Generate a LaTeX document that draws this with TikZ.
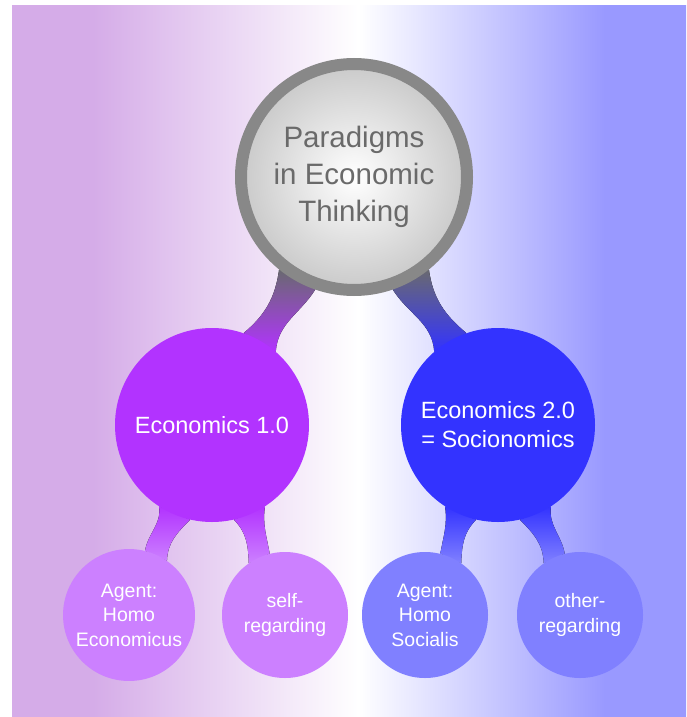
\documentclass[tikz,border=0pt]{standalone}
\usepackage{fontspec}
\setmainfont{Liberation Sans}
\usetikzlibrary{positioning}

\definecolor{bgpurple}{RGB}{213,172,232}
\definecolor{bgblue}{RGB}{153,153,255}
\definecolor{ringgray}{RGB}{136,136,136}
\definecolor{roottext}{RGB}{106,106,106}
\definecolor{rootlink}{RGB}{105,105,112}
\definecolor{ecoone}{RGB}{178,51,255}
\definecolor{ecotwo}{RGB}{51,51,255}
\definecolor{leafone}{RGB}{204,128,255}
\definecolor{leaftwo}{RGB}{128,128,255}

\pgfdeclarehorizontalshading{bgfade}{100bp}{color(0bp)=(bgpurple); color(31bp)=(bgpurple); color(50.7bp)=(white); color(69bp)=(bgblue); color(100bp)=(bgblue)}

\pgfdeclarelayer{bg}
\pgfdeclarelayer{links}
\pgfsetlayers{bg,links,main}

\begin{document}
\begin{tikzpicture}[x=1pt, y=1pt,
    rootnode/.style={circle, draw=ringgray, line width=12pt, inner color=white, outer color=gray!42,
        minimum size=226pt, align=center, text=roottext, font=\fontsize{29.5}{37}\selectfont},
    econode/.style={circle, minimum size=194pt, align=center, text=white, font=\fontsize{23.5}{29}\selectfont},
    leafnode/.style={circle, minimum size=126pt, align=center, text=white, font=\fontsize{19.5}{24.5}\selectfont},
    branch/.style={draw=none}
  ]

  \useasboundingbox (0,0) rectangle (686,-717);
  \begin{pgfonlayer}{bg}
    \fill[shading=bgfade] (12,-6) rectangle (686,-717);
  \end{pgfonlayer}

  \node[rootnode] (root) at (354,-177) {Paradigms\\in Economic\\Thinking};

  \node[econode, fill=ecoone] (eco1) at (212,-425) {Economics 1.0};
  \node[econode, fill=ecotwo] (eco2) at (498,-425) {Economics 2.0\\= Socionomics};

  \node[leafnode, fill=leafone] (homoeco) at (129,-615) {Agent:\\Homo\\Economicus};
  \node[leafnode, fill=leafone] (selfreg) at (285,-615) {self-\\regarding};
  \node[leafnode, fill=leaftwo] (homosoc) at (425,-615) {Agent:\\Homo\\Socialis};
  \node[leafnode, fill=leaftwo] (otherreg) at (580,-615) {other-\\regarding};

  % branches sit under the circles
  \begin{pgfonlayer}{links}
    \fill[branch, top color=rootlink, bottom color=ecoone]
      (root.231) to[out=262,in=40] (eco1.71) -- (eco1.49) to[out=86,in=238] (root.251) -- cycle;
    \fill[branch, top color=rootlink, bottom color=ecotwo]
      (root.309) to[out=278,in=140] (eco2.109) -- (eco2.131) to[out=94,in=302] (root.289) -- cycle;

    \fill[branch, top color=ecoone, bottom color=leafone]
      (eco1.237) to[out=278,in=80] (homoeco.76) -- (homoeco.55) to[out=88,in=225] (eco1.257) -- cycle;
    \fill[branch, top color=ecoone, bottom color=leafone]
      (eco1.303) to[out=262,in=100] (selfreg.104) -- (selfreg.125) to[out=92,in=315] (eco1.283) -- cycle;
    \fill[branch, top color=ecotwo, bottom color=leaftwo]
      (eco2.237) to[out=278,in=80] (homosoc.76) -- (homosoc.55) to[out=88,in=225] (eco2.257) -- cycle;
    \fill[branch, top color=ecotwo, bottom color=leaftwo]
      (eco2.303) to[out=262,in=100] (otherreg.104) -- (otherreg.125) to[out=92,in=315] (eco2.283) -- cycle;
  \end{pgfonlayer}

\end{tikzpicture}
\end{document}
